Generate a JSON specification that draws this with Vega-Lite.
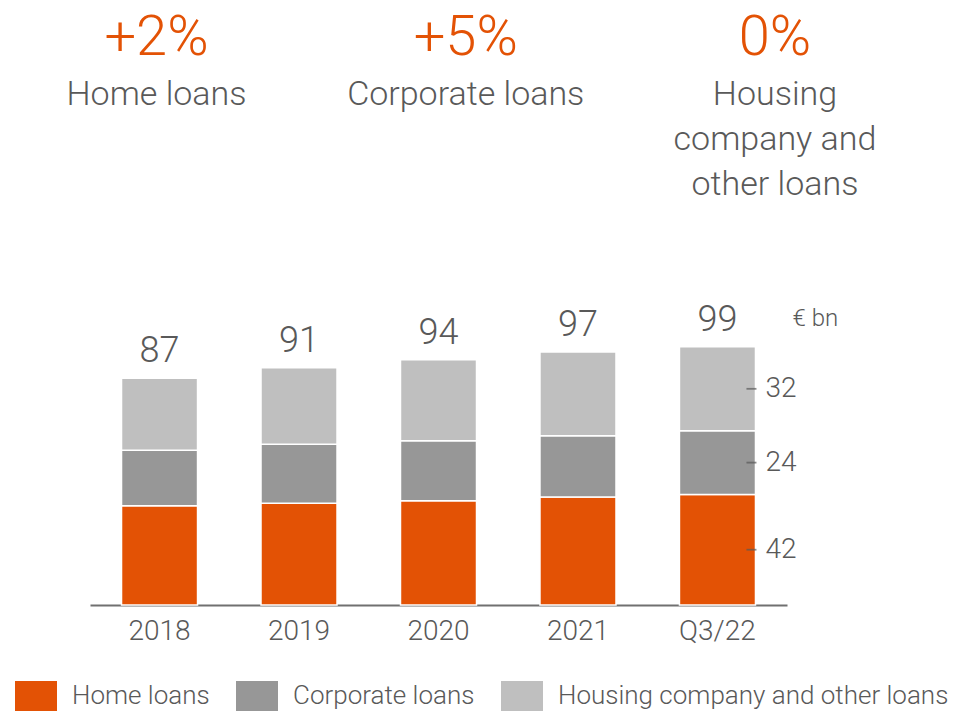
{
  "$schema": "https://vega.github.io/schema/vega-lite/v6.json",
  "width": 697,
  "height": 605,
  "autosize": {"type": "none"},
  "padding": {"left": 90, "top": 0, "right": 186, "bottom": 110},
  "background": "white",
  "config": {
    "font": "Roboto",
    "view": {"stroke": null},
    "text": {"fontWeight": 300, "color": "#595959"},
    "axis": {"labelFontWeight": 300},
    "legend": {"labelFontWeight": 300}
  },
  "datasets": {
    "loans": [
      {"year": "2018", "type": "Home loans", "value": 38.1},
      {"year": "2018", "type": "Corporate loans", "value": 21.2},
      {"year": "2018", "type": "Housing company and other loans", "value": 27.7},
      {"year": "2019", "type": "Home loans", "value": 39.0},
      {"year": "2019", "type": "Corporate loans", "value": 22.6},
      {"year": "2019", "type": "Housing company and other loans", "value": 29.4},
      {"year": "2020", "type": "Home loans", "value": 40.0},
      {"year": "2020", "type": "Corporate loans", "value": 23.0},
      {"year": "2020", "type": "Housing company and other loans", "value": 31.0},
      {"year": "2021", "type": "Home loans", "value": 41.4},
      {"year": "2021", "type": "Corporate loans", "value": 23.5},
      {"year": "2021", "type": "Housing company and other loans", "value": 32.1},
      {"year": "Q3/22", "type": "Home loans", "value": 42.4},
      {"year": "Q3/22", "type": "Corporate loans", "value": 24.4},
      {"year": "Q3/22", "type": "Housing company and other loans", "value": 32.2}
    ],
    "headlines": [
      {"category": "Home loans", "change": "+2%", "label": "Home loans"},
      {"category": "Corporate loans", "change": "+5%", "label": "Corporate loans"},
      {"category": "Housing company and other loans", "change": "0%", "label": "Housing\ncompany and\nother loans"}
    ]
  },
  "layer": [
    {
      "data": {"name": "loans"},
      "transform": [
        {"calculate": "indexof(['Home loans','Corporate loans','Housing company and other loans'], datum.type)", "as": "order"}
      ],
      "layer": [
        {
          "mark": {"type": "bar", "stroke": "white", "strokeWidth": 1.5},
          "encoding": {
            "x": {
              "field": "year", "type": "nominal", "sort": null, "title": null,
              "scale": {"paddingInner": 0.455, "paddingOuter": 0.226},
              "axis": {
                "labelAngle": 0, "ticks": false, "tickSize": 0, "labelPadding": 12,
                "labelFontSize": 28, "labelColor": "#595959",
                "domainColor": "#707070", "domainWidth": 2
              }
            },
            "y": {
              "field": "value", "type": "quantitative", "stack": "zero",
              "scale": {"domain": [0, 232], "nice": false, "zero": true},
              "axis": null
            },
            "color": {
              "field": "type", "type": "nominal", "title": null,
              "scale": {
                "domain": ["Home loans", "Corporate loans", "Housing company and other loans"],
                "range": ["#E35205", "#979797", "#BFBFBF"]
              },
              "legend": {
                "orient": "none", "legendX": -75, "legendY": 675,
                "direction": "horizontal", "padding": 0,
                "symbolType": "M-1,-0.714H1V0.714H-1Z", "symbolSize": 1764,
                "symbolStrokeWidth": 0, "symbolOpacity": 1,
                "labelFontSize": 26, "labelColor": "#595959", "labelOffset": 15,
                "columnPadding": 26, "labelLimit": 500
              }
            },
            "order": {"field": "order", "type": "quantitative", "sort": "ascending"}
          }
        },
        {
          "mark": {"type": "text", "baseline": "alphabetic", "dy": -16, "fontSize": 36},
          "encoding": {
            "x": {"field": "year", "type": "nominal", "sort": null},
            "y": {"aggregate": "sum", "field": "value", "type": "quantitative"},
            "text": {"aggregate": "sum", "field": "value", "type": "quantitative", "format": ".0f"}
          }
        },
        {
          "transform": [
            {"filter": "datum.year === 'Q3/22'"},
            {"aggregate": [{"op": "sum", "field": "value", "as": "total"}], "groupby": ["year"]}
          ],
          "mark": {"type": "text", "align": "left", "baseline": "alphabetic", "dx": 75, "dy": -21, "fontSize": 24},
          "encoding": {
            "x": {"field": "year", "type": "nominal", "sort": null},
            "y": {"field": "total", "type": "quantitative"},
            "text": {"value": "€ bn"}
          }
        },
        {
          "transform": [
            {"filter": "datum.year === 'Q3/22'"},
            {"stack": "value", "groupby": ["year"], "sort": [{"field": "order", "order": "ascending"}], "as": ["v0", "v1"]},
            {"calculate": "(datum.v0 + datum.v1) / 2", "as": "mid"}
          ],
          "layer": [
            {
              "mark": {"type": "tick", "size": 10, "thickness": 1.8, "xOffset": 34, "color": "#595959"},
              "encoding": {
                "x": {"field": "year", "type": "nominal", "sort": null},
                "y": {"field": "mid", "type": "quantitative"}
              }
            },
            {
              "mark": {"type": "text", "align": "left", "baseline": "middle", "dx": 48, "fontSize": 28},
              "encoding": {
                "x": {"field": "year", "type": "nominal", "sort": null},
                "y": {"field": "mid", "type": "quantitative"},
                "text": {"field": "value", "type": "quantitative", "format": ".0f"}
              }
            }
          ]
        }
      ]
    },
    {
      "data": {"name": "headlines"},
      "layer": [
        {
          "mark": {"type": "text", "baseline": "alphabetic", "fontSize": 56, "color": "#E35205"},
          "encoding": {
            "x": {
              "field": "category", "type": "nominal", "sort": null, "axis": null,
              "scale": {"type": "point", "padding": 0.127, "align": 0.847}
            },
            "y": {
              "datum": 2, "type": "quantitative", "axis": null,
              "scale": {"domain": [-9, 3.1], "nice": false, "zero": false}
            },
            "text": {"field": "change", "type": "nominal"}
          }
        },
        {
          "mark": {"type": "text", "baseline": "alphabetic", "fontSize": 34, "lineBreak": "\n", "lineHeight": 45},
          "encoding": {
            "x": {"field": "category", "type": "nominal", "sort": null, "axis": null},
            "y": {"datum": 1, "type": "quantitative", "axis": null},
            "text": {"field": "label", "type": "nominal"}
          }
        }
      ]
    }
  ],
  "resolve": {"scale": {"x": "independent", "y": "independent"}}
}
